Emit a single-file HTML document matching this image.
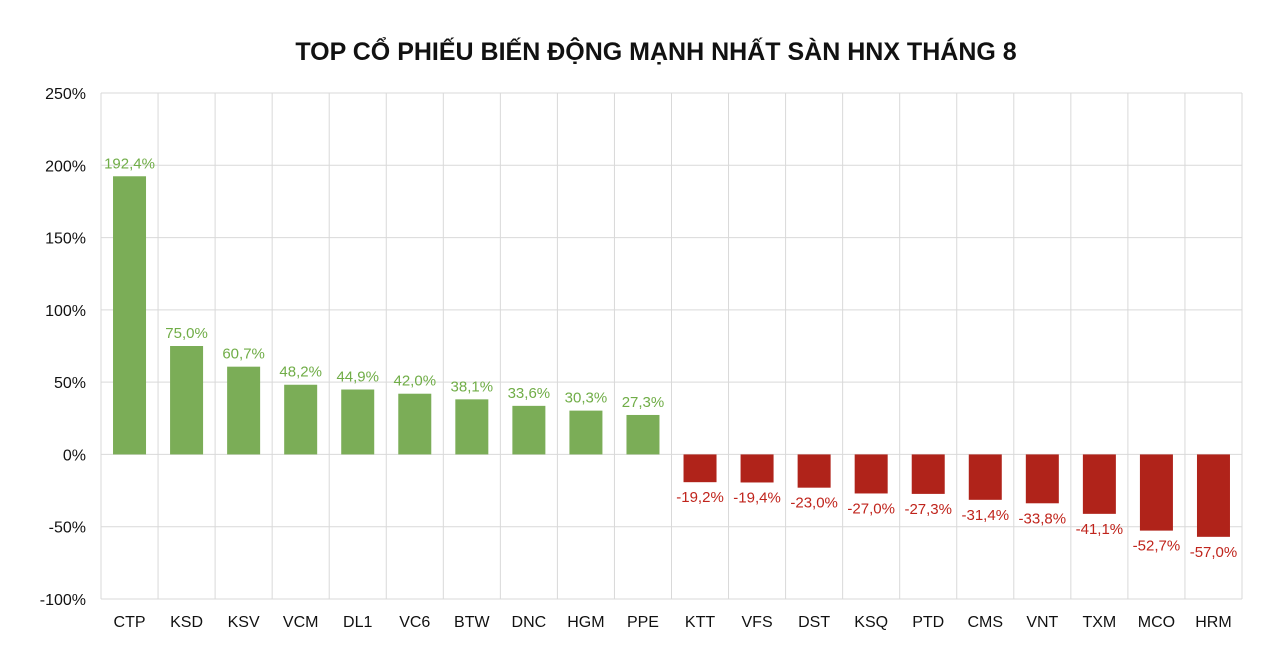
<!DOCTYPE html>
<html><head><meta charset="utf-8">
<style>html,body{margin:0;padding:0;background:#fff;}svg{display:block;}</style>
</head><body>
<svg id="c" width="1280" height="659" xmlns="http://www.w3.org/2000/svg" font-family="Liberation Sans, Arial, sans-serif">
<text x="656" y="60" text-anchor="middle" font-size="25" font-weight="bold" fill="#111">TOP CỔ PHIẾU BIẾN ĐỘNG MẠNH NHẤT SÀN HNX THÁNG 8</text>
</svg>
<script>
var s=document.getElementById('c'),ns='http://www.w3.org/2000/svg';
function el(t,a,txt){var e=document.createElementNS(ns,t);for(var k in a)e.setAttribute(k,a[k]);if(txt!=null)e.textContent=txt;s.appendChild(e);return e;}
var L=101,R=1242,T=93,B=599,n=20,cw=(R-L)/n;
function y(v){return T+(250-v)*(B-T)/350;}
for(var v=-100;v<=250;v+=50){el('line',{x1:L,x2:R,y1:y(v),y2:y(v),stroke:'#d9d9d9','stroke-width':1});
el('text',{x:86,y:y(v)+6,'text-anchor':'end','font-size':16,fill:'#111'},v+'%');}
for(var i=0;i<=n;i++){var x=L+i*cw;el('line',{x1:x,x2:x,y1:T,y2:B,stroke:'#d9d9d9','stroke-width':1});}
var d=[['CTP',192.4],['KSD',75.0],['KSV',60.7],['VCM',48.2],['DL1',44.9],['VC6',42.0],['BTW',38.1],['DNC',33.6],['HGM',30.3],['PPE',27.3],['KTT',-19.2],['VFS',-19.4],['DST',-23.0],['KSQ',-27.0],['PTD',-27.3],['CMS',-31.4],['VNT',-33.8],['TXM',-41.1],['MCO',-52.7],['HRM',-57.0]];
d.forEach(function(p,i){var cx=L+(i+0.5)*cw,v=p[1],bw=33,z=y(0),yy=y(v);
var col=v>0?'#7bad57':'#b0231a',lc=v>0?'#70ad47':'#c0241c';
el('rect',{x:cx-bw/2,y:Math.min(z,yy),width:bw,height:Math.abs(yy-z),fill:col});
var lbl=v.toFixed(1).replace('.',',')+'%';
el('text',{x:cx,y:v>0?yy-8:yy+20,'text-anchor':'middle','font-size':15,fill:lc},lbl);
el('text',{x:cx,y:627,'text-anchor':'middle','font-size':16,fill:'#111'},p[0]);});
</script>
</body></html>
